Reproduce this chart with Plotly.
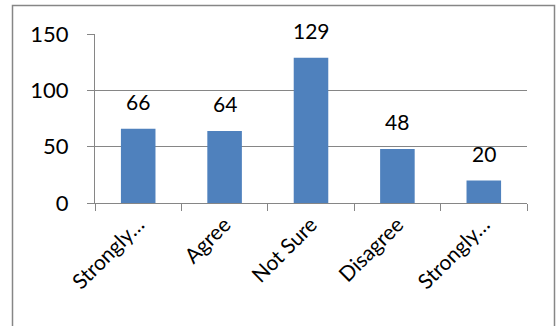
import plotly.graph_objects as go

categories = ["Strongly Agree", "Agree", "Not Sure", "Disagree", "Strongly Disagree"]
tick_labels = ["Strongly…", "Agree", "Not Sure", "Disagree", "Strongly…"]
values = [66, 64, 129, 48, 20]
y_ticks = [0, 50, 100, 150]

W, H = 557, 326
ML, MR, MT, MB = 95, 30, 34, 123
PW, PH = W - ML - MR, H - MT - MB
GRAY = "#868686"
FONT = "Lato"

fig = go.Figure(go.Bar(x=categories, y=values, marker=dict(color="#4F81BD", line=dict(width=0)),
                       width=0.4, hoverinfo="skip"))

for c, v in zip(categories, values):
    fig.add_annotation(x=c, y=v, text=str(v), showarrow=False, yshift=27,
                       font=dict(size=21, color="#000000", family=FONT))

def px2paper_x(p):
    return (p - ML) / PW

def px2paper_y(p):
    return (H - MB - p) / PH

fig.add_shape(type="rect", xref="paper", yref="paper",
              x0=px2paper_x(12.5), x1=px2paper_x(554.5), y0=px2paper_y(345), y1=px2paper_y(5.5),
              line=dict(color=GRAY, width=1.5), layer="above")

fig.update_layout(
    width=W, height=H, margin=dict(l=ML, r=MR, t=MT, b=MB, autoexpand=False),
    paper_bgcolor="white", plot_bgcolor="white", showlegend=False,
    font=dict(family=FONT, color="#000000"),
    xaxis=dict(tickmode="array", tickvals=categories, ticktext=tick_labels, tickangle=-45,
               tickson="boundaries", ticks="outside", ticklen=7, tickcolor=GRAY,
               showline=True, linecolor=GRAY, linewidth=1.2, showgrid=False, automargin=False,
               tickfont=dict(size=21, family=FONT)),
    yaxis=dict(range=[0, 150], tickvals=y_ticks, ticks="outside", ticklen=7, tickcolor=GRAY,
               showline=True, linecolor=GRAY, linewidth=1.2, showgrid=True, gridcolor=GRAY,
               gridwidth=1.2, zeroline=False, tickfont=dict(size=22, family=FONT),
               ticklabelstandoff=14, automargin=False),
)

fig.write_html("out.html", config={"displayModeBar": False},
               post_script="document.body.style.margin='0';")
